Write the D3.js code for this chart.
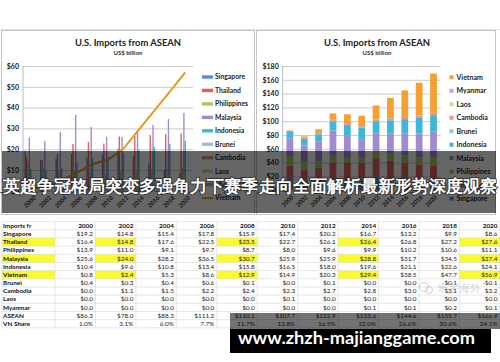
<!DOCTYPE html>
<html>
<head>
<meta charset="utf-8">
<script src="https://cdn.jsdelivr.net/npm/d3@7"></script>
<style>
  body { margin: 0; background: #fff; }
  svg { display: block; }
  text { font-family: Lato, "Liberation Sans", sans-serif; }
</style>
</head>
<body>
<div id="container"></div>
<script>
// values (US$ billion)
const years = ['2000', '2002', '2004', '2006', '2008', '2010', '2012', '2014', '2016', '2018', '2020'];
const countries = ['Singapore', 'Thailand', 'Philippines', 'Malaysia', 'Indonesia', 'Vietnam', 'Brunei', 'Cambodia', 'Laos', 'Myanmar'];
const singapore = [19.2, 14.8, 15.4, 17.8, 15.9, 17.4, 20.2, 16.7, 13.2, 9.9, 8.6];
const thailand = [16.4, 14.8, 17.6, 22.5, 23.5, 22.7, 26.1, 26.4, 26.8, 27.2, 27.6];
const philippines = [13.9, 11.0, 9.1, 9.7, 8.7, 8.0, 9.6, 9.9, 10.2, 10.6, 11.1];
const malaysia = [25.6, 24.0, 28.2, 36.5, 30.7, 25.9, 25.9, 28.8, 31.7, 34.5, 37.4];
const indonesia = [10.4, 9.6, 10.8, 13.4, 15.8, 16.5, 18.0, 19.6, 21.1, 22.6, 24.1];
const vietnam = [0.8, 2.4, 5.3, 8.6, 12.9, 14.9, 20.3, 29.4, 38.5, 47.7, 56.9];
const brunei = [0.4, 0.3, 0.4, 0.6, 0.1, 0.0, 0.1, 0.0, 0.0, -0.1, -0.1];
const cambodia = [0.0, 1.1, 1.5, 2.2, 2.4, 2.3, 2.7, 2.8, 3.0, 3.1, 3.2];
const laos = [0.0, 0.0, 0.0, 0.0, 0.0, 0.1, 0.0, 0.0, 0.0, 0.0, 0.0];
const myanmar = [0.0, 0.0, 0.0, 0.0, 0.0, 0.0, 0.0, 0.1, 0.1, 0.2, 0.1];
const aseanTotal = [86.3, 78.0, 88.3, 111.2, 110.1, 107.7, 122.9, 133.6, 144.6, 155.7, 166.9];
const vnShare = [1.0, 3.1, 6.0, 7.7, 11.7, 13.8, 16.5, 22.0, 26.6, 30.6, 34.1];
const leftTicks = [0, 10, 20, 30, 40, 50, 60];
const rightTicks = [0, 20, 40, 60, 80, 100, 120, 140, 160, 180];
const highlightRows = ['Thailand', 'Malaysia', 'Vietnam'];
const highlightYears = ['2002', '2008', '2014', '2020'];

const series = {
  Singapore: singapore, Thailand: thailand, Philippines: philippines, Malaysia: malaysia,
  Indonesia: indonesia, Vietnam: vietnam, Brunei: brunei, Cambodia: cambodia, Laos: laos, Myanmar: myanmar
};
const color = {
  Singapore: '#5b8dcc', Thailand: '#de625c', Philippines: '#a6c95e', Malaysia: '#a08bcf',
  Indonesia: '#3db8d8', Brunei: '#9dbde6', Cambodia: '#e8938e', Laos: '#c9dd9c',
  Myanmar: '#b9a9dc', Vietnam: '#f5a030'
};

const W = 500, H = 362;
const svg = d3.select('#container').append('svg').attr('width', W).attr('height', H);
svg.append('rect').attr('width', W).attr('height', H).attr('fill', '#fff');
svg.append('line').attr('x1', 0).attr('x2', W).attr('y1', 29.5).attr('y2', 29.5).attr('stroke', '#e2e2e2');

function styleYAxis(g) {
  g.select('.domain').remove();
  g.selectAll('.tick line').attr('stroke', '#cdcdcd');
  g.selectAll('.tick text').attr('x', -4).attr('font-size', 7).attr('font-weight', 700).attr('fill', '#222');
}
function styleXAxis(g, dx) {
  g.select('.domain').remove();
  g.selectAll('.tick text')
    .attr('y', 0).attr('dy', '0.35em')
    .attr('text-anchor', 'end')
    .attr('transform', `translate(${dx},6) rotate(-45)`)
    .attr('font-size', 6).attr('font-weight', 700).attr('fill', '#333');
}

// ---------- left chart: clustered bars + Vietnam line ----------
const left = svg.append('g');
left.append('rect').attr('x', 1.5).attr('y', 30.5).attr('width', 253).attr('height', 184)
  .attr('fill', '#fff').attr('stroke', '#c4c4c4');
left.append('text').attr('x', 128).attr('y', 46).attr('text-anchor', 'middle')
  .attr('font-size', 9.4).attr('font-weight', 700).attr('fill', '#222').text('U.S. Imports from ASEAN');
left.append('text').attr('x', 128).attr('y', 54.5).attr('text-anchor', 'middle')
  .attr('font-size', 6).attr('font-weight', 700).attr('fill', '#333').text('US$ billion');

const xL = d3.scaleBand().domain(years).range([23, 193]).paddingInner(0.2).paddingOuter(0.1);
const yL = d3.scaleLinear().domain([0, 60]).range([190.8, 66]);
left.append('g').attr('transform', 'translate(23,0)')
  .call(d3.axisLeft(yL).tickValues(leftTicks).tickSize(-170).tickFormat(d => '$' + d))
  .call(styleYAxis);
left.append('line').attr('x1', 23).attr('x2', 23).attr('y1', 66).attr('y2', 190.8).attr('stroke', '#bcbcbc');

const barKeys = countries.filter(c => c !== 'Vietnam');
const xL1 = d3.scaleBand().domain(barKeys).range([0, xL.bandwidth()]);
left.append('g').selectAll('g').data(years).join('g')
  .attr('transform', d => `translate(${xL(d)},0)`)
  .selectAll('rect').data((y, i) => barKeys.map(k => ({ k, v: series[k][i] }))).join('rect')
  .attr('x', d => xL1(d.k))
  .attr('width', xL1.bandwidth())
  .attr('y', d => yL(Math.max(0, d.v)))
  .attr('height', d => Math.abs(yL(d.v) - yL(0)))
  .attr('fill', d => color[d.k]);

const line = d3.line().x((d, i) => xL(years[i]) + xL.bandwidth() / 2).y(d => yL(d));
left.append('path').datum(vietnam).attr('d', line)
  .attr('fill', 'none').attr('stroke', '#e29a1f').attr('stroke-width', 2);

left.append('g').attr('transform', 'translate(0,190.8)')
  .call(d3.axisBottom(xL).tickSize(0))
  .call(g => styleXAxis(g, 4));

const legL = left.append('g').selectAll('g').data(barKeys.concat(['Vietnam'])).join('g')
  .attr('transform', (d, i) => `translate(202,${77 + i * 13.45})`);
legL.append('rect').attr('x', 0).attr('y', d => d === 'Vietnam' ? -1 : -1.7)
  .attr('width', 11).attr('height', d => d === 'Vietnam' ? 2 : 3.4)
  .attr('fill', d => d === 'Vietnam' ? '#e29a1f' : color[d]);
legL.append('text').attr('x', 13).attr('dy', '0.35em')
  .attr('font-size', 6.8).attr('font-weight', 700).attr('fill', '#222').text(d => d);

// ---------- right chart: stacked bars ----------
const right = svg.append('g');
right.append('rect').attr('x', 256.5).attr('y', 30.5).attr('width', 239).attr('height', 184)
  .attr('fill', '#fff').attr('stroke', '#c4c4c4');
right.append('text').attr('x', 377).attr('y', 46).attr('text-anchor', 'middle')
  .attr('font-size', 9.4).attr('font-weight', 700).attr('fill', '#222').text('U.S. Imports from ASEAN');
right.append('text').attr('x', 377).attr('y', 54.5).attr('text-anchor', 'middle')
  .attr('font-size', 6).attr('font-weight', 700).attr('fill', '#333').text('US$ billion');

const xR = d3.scaleBand().domain(years).range([282.7, 440.7]).paddingInner(0.53).paddingOuter(0.265);
const yR = d3.scaleLinear().domain([0, 180]).range([190.2, 66]);
right.append('g').attr('transform', 'translate(282.7,0)')
  .call(d3.axisLeft(yR).tickValues(rightTicks).tickSize(-158).tickFormat(d => '$' + d))
  .call(styleYAxis);
right.append('line').attr('x1', 282.7).attr('x2', 282.7).attr('y1', 66).attr('y2', 190.2).attr('stroke', '#bcbcbc');

const stackKeys = ['Singapore', 'Thailand', 'Philippines', 'Malaysia', 'Indonesia', 'Brunei', 'Cambodia', 'Laos', 'Myanmar', 'Vietnam'];
const rows = years.map((y, i) => {
  const o = { year: y };
  stackKeys.forEach(k => { o[k] = series[k][i]; });
  return o;
});
const stacked = d3.stack().keys(stackKeys).offset(d3.stackOffsetDiverging)(rows);
right.append('g').selectAll('g').data(stacked).join('g')
  .attr('fill', d => color[d.key])
  .selectAll('rect').data(d => d).join('rect')
  .attr('x', d => xR(d.data.year))
  .attr('width', xR.bandwidth())
  .attr('y', d => yR(Math.max(d[0], d[1])))
  .attr('height', d => Math.abs(yR(d[0]) - yR(d[1])));

right.append('g').attr('transform', 'translate(0,190.2)')
  .call(d3.axisBottom(xR).tickSize(0))
  .call(g => styleXAxis(g, 2.5));

const legR = right.append('g').selectAll('g').data(stackKeys.slice().reverse()).join('g')
  .attr('transform', (d, i) => `translate(449.5,${77.3 + i * 13.48})`);
legR.append('rect').attr('x', 0).attr('y', -2).attr('width', 4).attr('height', 4).attr('fill', d => color[d]);
legR.append('text').attr('x', 7).attr('dy', '0.35em')
  .attr('font-size', 7).attr('font-weight', 700).attr('fill', '#222').text(d => d);

// ---------- data table ----------
const tableRows = countries.map(c => ({ label: c, vals: series[c], fmt: 'money' }))
  .concat([{ label: 'ASEAN', vals: aseanTotal, fmt: 'money' }, { label: 'VN Share', vals: vnShare, fmt: 'pct' }]);
const rowLabels = ['Imports fr'].concat(tableRows.map(r => r.label));
const yT = d3.scaleBand().domain(rowLabels).range([221.6, 327.8]);
const xT = d3.scaleBand().domain(years).range([55, 500]);
const money = v => (v < 0 ? '-' : '') + '$' + Math.abs(v).toFixed(1);
const pct = v => v.toFixed(1) + '%';

const tbl = svg.append('g').attr('font-family', '"Liberation Sans", Arial, sans-serif');
highlightRows.forEach(r => {
  tbl.append('rect').attr('x', 2).attr('y', yT(r)).attr('width', 53).attr('height', yT.bandwidth()).attr('fill', '#fbfb2c');
  highlightYears.forEach(y => {
    tbl.append('rect').attr('x', xT(y)).attr('y', yT(r)).attr('width', xT.bandwidth()).attr('height', yT.bandwidth()).attr('fill', '#fbfb2c');
  });
});
tbl.selectAll('line.h').data(rowLabels.concat(['end'])).join('line')
  .attr('x1', 2).attr('x2', 500)
  .attr('y1', (d, i) => 221.6 + i * yT.step()).attr('y2', (d, i) => 221.6 + i * yT.step())
  .attr('stroke', '#d6d6d6').attr('stroke-width', 0.6);
tbl.selectAll('line.v').data([2, 55].concat(years.map(y => xT(y) + xT.bandwidth()))).join('line')
  .attr('x1', d => d).attr('x2', d => d).attr('y1', 221.6).attr('y2', 327.8)
  .attr('stroke', '#d6d6d6').attr('stroke-width', 0.6);

tbl.append('text').attr('x', 3).attr('y', yT('Imports fr') + yT.bandwidth() / 2).attr('dy', '0.35em')
  .attr('font-size', 6.4).attr('font-weight', 700).attr('fill', '#111').text('Imports fr');
tbl.selectAll('text.yr').data(years).join('text')
  .attr('x', d => xT(d) + xT.bandwidth() - 2.5).attr('y', yT('Imports fr') + yT.bandwidth() / 2).attr('dy', '0.35em')
  .attr('text-anchor', 'end').attr('font-size', 6.4).attr('font-weight', 700).attr('fill', '#111').text(d => d);
const tr = tbl.selectAll('g.row').data(tableRows).join('g')
  .attr('transform', d => `translate(0,${yT(d.label) + yT.bandwidth() / 2})`);
tr.append('text').attr('x', 3).attr('dy', '0.35em')
  .attr('font-size', 6.4).attr('font-weight', 700).attr('fill', '#111').text(d => d.label);
tr.selectAll('text.v').data(d => d.vals.map((v, i) => ({ v, y: years[i], fmt: d.fmt }))).join('text')
  .attr('x', d => xT(d.y) + xT.bandwidth() - 2.5).attr('dy', '0.35em')
  .attr('text-anchor', 'end').attr('font-size', 6.4).attr('fill', '#222')
  .text(d => d.fmt === 'pct' ? pct(d.v) : money(d.v));

// ---------- overlays ----------
svg.append('rect').attr('x', 2).attr('y', 151).attr('width', 494).attr('height', 62)
  .attr('fill', '#000').attr('fill-opacity', 0.6);
svg.append('text').attr('x', 250).attr('y', 191.5).attr('text-anchor', 'middle')
  .attr('textLength', 494).attr('lengthAdjust', 'spacingAndGlyphs')
  .attr('font-family', '"Noto Sans CJK SC", sans-serif').attr('font-size', 17).attr('font-weight', 700)
  .attr('fill', '#fff').attr('stroke', '#222').attr('stroke-width', 1.5).attr('paint-order', 'stroke')
  .text('英超争冠格局突变多强角力下赛季走向全面解析最新形势深度观察');

// faint watermark
const wm = svg.append('g').attr('opacity', 0.55);
wm.append('circle').attr('cx', 424).attr('cy', 287).attr('r', 4.5).attr('fill', 'none').attr('stroke', '#aaa');
wm.append('circle').attr('cx', 429).attr('cy', 290).attr('r', 3.5).attr('fill', 'none').attr('stroke', '#aaa');
wm.append('text').attr('x', 437).attr('y', 292).attr('font-family', '"Noto Sans CJK SC", sans-serif')
  .attr('font-size', 11).attr('fill', '#b5b5b5').text('米宇海外');

svg.append('rect').attr('x', 230).attr('y', 313).attr('width', 270).attr('height', 16)
  .attr('fill', '#000').attr('fill-opacity', 0.55);
svg.append('rect').attr('x', 230).attr('y', 329).attr('width', 261).attr('height', 24).attr('fill', '#000');
svg.append('text').attr('x', 238).attr('y', 343.5)
  .attr('textLength', 237).attr('lengthAdjust', 'spacingAndGlyphs')
  .attr('font-family', '"DejaVu Sans", sans-serif').attr('font-size', 16.5).attr('font-weight', 700)
  .attr('fill', '#fff').text('www.zhzh-majianggame.com');
</script>
</body>
</html>
